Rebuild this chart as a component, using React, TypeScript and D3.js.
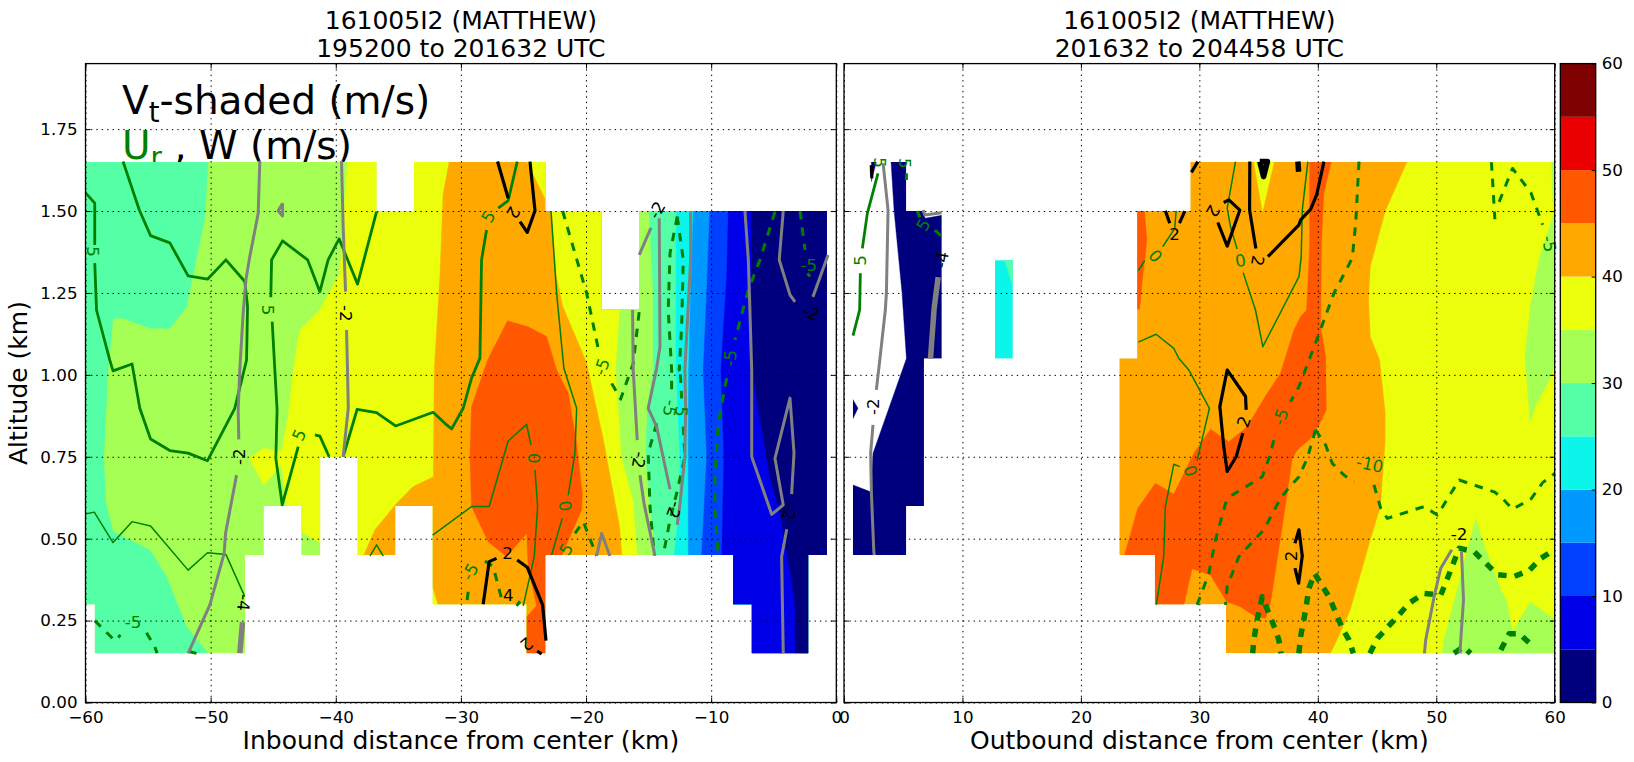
import * as d3 from "d3";
import React, { useEffect, useRef } from "react";

type Pt = [number, number];

// shading levels (m/s) and the colours between them
const bandEdges = [0, 5, 10, 15, 20, 25, 30, 35, 40, 45, 50, 55, 60];
const bandColors = ["#00007f", "#0000e8", "#0040ff", "#0099ff", "#0cf5ea", "#55ffa5", "#a5ff55", "#ebff0c", "#ffa900", "#ff5800", "#ea0000", "#7f0000"];

const altTicks = [0, 0.25, 0.5, 0.75, 1, 1.25, 1.5, 1.75];
const inboundTicks = [-60, -50, -40, -30, -20, -10, 0];
const outboundTicks = [0, 10, 20, 30, 40, 50, 60];
const barTicks = [0, 10, 20, 30, 40, 50, 60];

// cells that have data: x0, x1, alt0, alt1
const leftCells = [
  [-60, -36.75, 1.5, 1.65], [-33.75, -23.25, 1.5, 1.65],
  [-60, -18.75, 1.2, 1.5], [-15.75, -0.75, 1.2, 1.5],
  [-60, -0.75, 0.75, 1.2],
  [-60, -41.25, 0.6, 0.75], [-38.25, -0.75, 0.6, 0.75],
  [-60, -45.75, 0.45, 0.6], [-42.75, -41.25, 0.45, 0.6], [-38.25, -35.25, 0.45, 0.6], [-32.25, -0.75, 0.45, 0.6],
  [-60, -47.25, 0.3, 0.45], [-32.25, -23.25, 0.3, 0.45], [-8.25, -2.25, 0.3, 0.45],
  [-59.25, -47.25, 0.15, 0.3], [-24.75, -23.25, 0.15, 0.3], [-6.75, -2.25, 0.15, 0.3],
];
const rightCells = [
  [2.25, 5.25, 1.5, 1.65], [0.75, 8.25, 1.05, 1.5], [0.75, 6.75, 0.6, 1.05], [0.75, 5.25, 0.45, 0.6],
  [12.75, 14.25, 1.05, 1.35],
  [29.25, 60, 1.5, 1.65], [24.75, 60, 1.05, 1.5], [23.25, 60, 0.45, 1.05], [26.25, 60, 0.3, 0.45], [32.25, 60, 0.15, 0.3],
];

// Vt band edges, left panel, top to bottom
const leftTeal: Pt[] = [[-60, 1.65], [-50.2, 1.65], [-50.46, 1.483], [-51.26, 1.33], [-51.93, 1.208], [-53.26, 1.142], [-54.86, 1.142], [-57, 1.173], [-57.8, 1.173], [-58.2, 1.015], [-58.54, 0.75], [-58.38, 0.608], [-57.8, 0.521], [-56.46, 0.496], [-54.86, 0.466], [-53.53, 0.384], [-51.93, 0.231], [-50.2, 0.15], [-60, 0.15]];
const edgeGreenYellow: Pt[] = [[-39.06, 1.65], [-39.41, 1.473], [-39.67, 1.31], [-41.27, 1.198], [-42.87, 1.137], [-43.4, 1.015], [-43.8, 0.872], [-44.33, 0.766], [-45.8, 0.776], [-46.92, 0.745], [-45.75, 0.664], [-44.33, 0.725], [-43.93, 0.598], [-42.79, 0.521], [-41.2, 0.486], [-40, 0.15]];
const edgeYellowOrange: Pt[] = [[-30.94, 1.65], [-31.42, 1.553], [-31.68, 1.3], [-32.13, 1.015], [-32.2, 0.689], [-33.81, 0.659], [-35.14, 0.608], [-36.87, 0.527], [-37.8, 0.447], [-32.3, 0.359], [-31.8, 0.295], [-31.8, 0.15]];
const edgeOrangeYellow: Pt[] = [[-24.7, 1.65], [-23.2, 1.534], [-22.75, 1.5], [-22.35, 1.3], [-21.82, 1.208], [-19.95, 1.04], [-18.63, 0.811], [-17.29, 0.537], [-17.1, 0.447], [-17.1, 0.15]];
const edgeYellowGreen: Pt[] = [[-18, 1.5], [-17.29, 1.202], [-17.61, 1.015], [-17.16, 0.75], [-16.23, 0.618], [-15.88, 0.447], [-15.88, 0.15]];
const edgeGreenTeal: Pt[] = [[-14.95, 1.5], [-14.63, 1.249], [-14.63, 1.015], [-15.1, 0.893], [-15.21, 0.75], [-14.89, 0.618], [-14.41, 0.447], [-14.41, 0.15]];
const edgeTealCyan: Pt[] = [[-12.81, 1.5], [-12.81, 1.015], [-12.49, 0.75], [-12.55, 0.588], [-12.97, 0.447], [-12.97, 0.15]];
const edgeCyanBlue: Pt[] = [[-11.43, 1.5], [-11.64, 1.249], [-11.8, 1.015], [-11.83, 0.75], [-11.83, 0.15]];
const edgeBlue15: Pt[] = [[-10.1, 1.5], [-10.36, 1.249], [-10.63, 1.015], [-10.36, 0.75], [-10.76, 0.447], [-10.76, 0.15]];
const edgeBlue10: Pt[] = [[-8.63, 1.5], [-8.76, 1.3], [-9.22, 1.015], [-8.98, 0.75], [-9.16, 0.447], [-9.16, 0.15]];
const edgeNavy: Pt[] = [[-6.76, 1.5], [-6.76, 1.015], [-6.36, 0.923], [-5.3, 0.689], [-4.5, 0.578], [-3.57, 0.374], [-3.3, 0.292], [-3.3, 0.15]];
const leftCore45: Pt[] = [[-26.27, 1.165], [-24.62, 1.147], [-23.15, 1.117], [-22.35, 1.015], [-21.42, 0.944], [-20.75, 0.791], [-20.3, 0.638], [-20.35, 0.588], [-21.95, 0.447], [-23.25, 0.447], [-23.25, 0.15], [-24.75, 0.15], [-24.75, 0.262], [-23.95, 0.295], [-24.62, 0.415], [-24.75, 0.516], [-26.35, 0.445], [-27.82, 0.491], [-29.15, 0.598], [-29.28, 0.75], [-29.15, 0.903], [-27.87, 1.045]];

// Vt bands, right panel
const rightOrangeBase: Pt[] = [[23.25, 1.65], [60, 1.65], [60, 0.15], [23.25, 0.15]];
const rightEdgeYellow: Pt[] = [[47.56, 1.65], [45.73, 1.5], [44.46, 1.33], [44.32, 1.229], [44.46, 1.117], [45.25, 1.045], [45.73, 0.883], [45.73, 0.801], [45.31, 0.598], [44.46, 0.496], [42.77, 0.282], [41.65, 0.191], [41.1, 0.15]];
const rightYellowSpike: Pt[] = [[34.6, 1.65], [36.3, 1.65], [35.34, 1.5]];
const rightCore45: Pt[] = [[39.3, 1.65], [41.14, 1.65], [40.5, 1.554], [40.3, 1.39], [40.24, 1.147], [40.66, 1.056], [40.72, 0.893], [40.1, 0.847], [39.39, 0.806], [38.27, 0.771], [37.84, 0.745], [37.42, 0.638], [36.01, 0.303], [35.59, 0.257], [34.74, 0.262], [33.47, 0.292], [32.29, 0.308], [30.94, 0.389], [29.39, 0.408], [28.68, 0.297], [26.25, 0.297], [26.25, 0.447], [23.67, 0.449], [24.8, 0.593], [26.29, 0.669], [27.84, 0.636], [29.53, 0.761], [30.94, 0.834], [32.49, 0.796], [34.04, 0.842], [34.88, 0.893], [35.73, 0.944], [36.85, 1.005], [37.98, 1.137], [38.55, 1.178], [39.05, 1.198], [39.3, 1.39]];
const rightStrip45: Pt[] = [[24.75, 1.5], [25.36, 1.5], [25.58, 1.412], [25.16, 1.28], [24.96, 1.2], [24.75, 1.2]];
const rightGreenTop: Pt[] = [[60, 1.5], [58.69, 1.356], [57.99, 1.219], [57.48, 1.057], [57.93, 0.856], [58.41, 0.908], [59.54, 0.983], [60, 1.032]];
const rightGreenSliver: Pt[] = [[59.75, 1.65], [60, 1.65], [60, 1.5], [59.85, 1.53]];
const rightGreenLow: Pt[] = [[53.34, 0.562], [53.76, 0.509], [55.45, 0.343], [55.96, 0.31], [56.44, 0.216], [57.93, 0.307], [60, 0.254], [60, 0.15], [50.5, 0.15], [50.66, 0.191]];
const rightNavy: Pt[] = [[0.75, 0.45], [5.25, 0.45], [5.25, 0.6], [6.75, 0.6], [6.75, 1.05], [8.25, 1.05], [8.25, 1.487], [6.85, 1.478], [6.6, 1.5], [5.25, 1.5], [5.25, 1.65], [3.97, 1.65], [4.23, 1.5], [4.9, 1.25], [5.27, 1.05], [2.45, 0.761], [2.25, 0.643], [0.76, 0.664]];
const rightNavyDot: Pt[] = [[0.75, 0.925], [1.18, 0.898], [0.75, 0.866]];
const rightNavyTop: Pt[] = [[2.31, 1.65], [2.73, 1.65], [2.31, 1.59]];
const rightCyanBar: Pt[] = [[12.75, 1.05], [14.25, 1.05], [14.25, 1.35], [12.75, 1.35]];
const rightCyanTeal: Pt[] = [[13.58, 1.35], [14.25, 1.35], [14.25, 1.27]];

// Ur contours, left panel
const leftU5: Pt[][] = [
  [[-60.08, 1.559], [-59.26, 1.524], [-59.26, 1.396]],
  [[-59.26, 1.341], [-59.12, 1.198], [-58.06, 1.045], [-57.8, 1.012], [-56.28, 1.033], [-55.66, 0.898], [-54.8, 0.804], [-53.26, 0.769], [-51.8, 0.761], [-50.25, 0.738], [-48.07, 0.898], [-47.13, 1.045], [-47.05, 1.208], [-47.27, 1.285], [-48.78, 1.351], [-50.25, 1.292], [-51.8, 1.302], [-53.26, 1.403], [-54.8, 1.425], [-55.7, 1.503], [-57, 1.651]],
  [[-36.74, 1.498], [-38.26, 1.277], [-39.73, 1.415], [-40.61, 1.351], [-41.27, 1.254], [-42.25, 1.351], [-44.25, 1.409], [-45.13, 1.351], [-45.19, 1.237]],
  [[-45.08, 1.162], [-44.87, 1.015], [-44.69, 0.893], [-44.79, 0.745], [-44.28, 0.603], [-43, 0.781]],
  [[-41.67, 0.817], [-41.27, 0.813], [-40.53, 0.75]],
  [[-39.41, 0.75], [-38.29, 0.895], [-36.74, 0.885], [-35.22, 0.844], [-32.22, 0.886], [-31.28, 0.852], [-30.74, 0.835], [-29.82, 0.898], [-29.15, 0.99], [-28.48, 1.051], [-28.35, 1.351], [-27.95, 1.442]],
  [[-27.02, 1.509], [-26.22, 1.532], [-25.5, 1.651]],
];
const leftU0: Pt[][] = [
  [[-60, 0.575], [-59.3, 0.581], [-57.8, 0.488], [-56.28, 0.552], [-54.8, 0.539], [-51.8, 0.404], [-50.25, 0.457], [-48.78, 0.452], [-47.27, 0.323]],
  [[-37.27, 0.447], [-36.74, 0.481], [-36.2, 0.447]],
  [[-32.26, 0.511], [-31.68, 0.527], [-29.15, 0.598], [-27.74, 0.598], [-26.22, 0.798], [-24.75, 0.849], [-24.4, 0.786]],
  [[-24.08, 0.71], [-23.87, 0.598], [-24.14, 0.445], [-25.02, 0.295]],
  [[-22.8, 1.5], [-22.35, 1.249], [-21.77, 1.02], [-20.75, 0.898], [-20.89, 0.761], [-21.42, 0.633]],
  [[-21.9, 0.562], [-22.75, 0.45]],
];
const leftUm5: Pt[][] = [
  [[-59.26, 0.25], [-57.66, 0.189], [-57.2, 0.206]],
  [[-55.13, 0.213], [-54.46, 0.17], [-54.28, 0.15]],
  [[-51.66, 0.155], [-51.13, 0.15]],
  [[-21.87, 1.5], [-19.95, 1.249], [-18.95, 1.066]],
  [[-17.95, 0.974], [-17.23, 0.926], [-16.23, 1.035], [-15.69, 1.213]],
  [[-12.71, 1.483], [-13.29, 1.371], [-13.43, 1.198], [-13.16, 1.015], [-13.16, 0.954]],
  [[-14.36, 0.852], [-15.03, 0.761], [-14.89, 0.598], [-14.55, 0.45]],
  [[-12.71, 1.483], [-12.23, 1.351], [-12.36, 1.147], [-12.55, 1.015], [-12.49, 1.025], [-12.36, 0.928]],
  [[-12.23, 0.842], [-12.1, 0.75], [-12.76, 0.638], [-13.29, 0.557], [-13.83, 0.45]],
  [[-4.9, 1.498], [-6.1, 1.351], [-7.03, 1.259], [-8.1, 1.107]],
  [[-8.76, 0.99], [-9.43, 0.852], [-9.7, 0.689], [-9.7, 0.588], [-9.43, 0.447]],
  [[-2.9, 1.5], [-2.5, 1.381]],
  [[-2.3, 1.31], [-2.1, 1.3]],
  [[-20.89, 0.516], [-20.22, 0.552], [-19.15, 0.447]],
  [[-28.08, 0.432], [-27.42, 0.415], [-26.62, 0.298]],
  [[-29.42, 0.338], [-29.55, 0.295]],
  [[-25.55, 0.295], [-25.28, 0.309]],
];

// W contours, left panel
const leftW2: Pt[][] = [
  [[-27.07, 1.651], [-26.22, 1.539]],
  [[-25.28, 1.468], [-24.7, 1.435], [-24.08, 1.501], [-24.48, 1.651]],
  [[-28.22, 0.3], [-27.74, 0.43], [-27.15, 0.44]],
  [[-25.5, 0.435], [-24.7, 0.413], [-23.47, 0.298], [-23.2, 0.189]],
  [[-23.9, 0.157], [-23.55, 0.148]],
];
const leftWm2: Pt[][] = [
  [[-46.07, 1.653], [-46.2, 1.493], [-46.87, 1.361], [-47.18, 1.29], [-47.4, 1.188], [-47.67, 1.015], [-47.8, 0.893], [-47.75, 0.803]],
  [[-47.93, 0.694], [-48.81, 0.516], [-48.92, 0.455], [-50.06, 0.298], [-51.8, 0.15]],
  [[-44.25, 1.524], [-44.6, 1.501], [-44.25, 1.485], [-44.25, 1.524]],
  [[-39.54, 1.653], [-39.41, 1.452], [-39.22, 1.254]],
  [[-39.14, 1.137], [-39.06, 1.015], [-39, 0.898], [-39.41, 0.75]],
  [[-16.28, 1.198], [-16.23, 1.015], [-15.91, 0.801]],
  [[-15.69, 0.694], [-15.37, 0.608], [-14.49, 0.447]],
  [[-14.81, 1.449], [-15.75, 1.366]],
  [[-14.15, 1.478], [-14.09, 1.086], [-14.36, 1.02], [-15.03, 0.898], [-14.36, 0.842], [-13.29, 0.651]],
  [[-11.64, 1.5], [-11.64, 1.351], [-12.1, 1.015], [-12.04, 0.898], [-12.1, 0.75], [-12.49, 0.608], [-12.71, 0.542]],
  [[-19.15, 0.447], [-18.75, 0.516], [-18.09, 0.447]],
  [[-7.3, 1.5], [-7.03, 1.351], [-6.76, 1.015], [-6.76, 0.75], [-5.16, 0.574], [-4.24, 0.603], [-4.9, 0.745], [-3.7, 0.929], [-3.38, 0.761], [-3.57, 0.636]],
  [[-3.96, 0.529], [-4.37, 0.445], [-4.24, 0.15]],
  [[-4.24, 1.5], [-4.56, 1.351], [-3.7, 1.244], [-3.3, 1.223]],
  [[-0.66, 1.366], [-1.87, 1.238]],
];
const leftWm4: Pt[][] = [[[-47.45, 0.245], [-47.67, 0.15]]];

// Ur contours, right panel
const rightU5: Pt[][] = [
  [[2.87, 1.615], [1.97, 1.493], [1.55, 1.386]],
  [[1.38, 1.31], [1.32, 1.198], [0.76, 1.12]],
];
const rightU0: Pt[][] = [
  [[33.05, 1.651], [32.35, 1.508], [32.63, 1.452], [33.19, 1.384]],
  [[33.7, 1.312], [34.74, 1.198], [35.36, 1.086], [38.41, 1.3], [38.6, 1.361], [38.69, 1.503], [39.16, 1.651]],
  [[28.04, 1.501], [27.92, 1.447], [26.91, 1.391]],
  [[25.39, 1.349], [24.85, 1.318]],
  [[24.85, 1.1], [26.35, 1.124], [27.84, 1.081], [28.26, 1.051], [29.11, 1.015], [30.85, 0.898], [29.81, 0.738]],
  [[28.35, 0.72], [27.84, 0.727], [27.13, 0.598], [26.99, 0.445], [26.37, 0.298]],
];
const rightUm5: Pt[][] = [
  [[5.27, 1.615], [5.27, 1.595]],
  [[7.67, 1.442], [8.28, 1.422]],
  [[6.2, 1.5], [6.4, 1.48]],
  [[43.48, 1.651], [43.2, 1.463], [42.91, 1.356], [41.36, 1.249], [39.96, 1.112], [38.41, 0.964], [37.7, 0.918]],
  [[36.29, 0.801], [35.87, 0.745], [35.31, 0.689], [32.77, 0.633], [32.21, 0.608], [31.36, 0.496], [30.8, 0.394], [29.81, 0.298]],
  [[39.81, 0.832], [39.11, 0.745], [38.41, 0.689], [37.42, 0.649], [36.85, 0.623], [35.44, 0.527], [33.33, 0.445], [32.35, 0.354], [32.21, 0.298]],
  [[54.66, 1.649], [54.95, 1.475]],
  [[55.31, 1.528], [56.44, 1.63], [57.99, 1.556], [58.98, 1.458]],
];
const rightUm10: Pt[][] = [
  [[39.81, 0.832], [40.66, 0.786], [41.22, 0.73], [42.21, 0.694], [43.05, 0.674]],
  [[44.74, 0.664], [45.31, 0.593], [45.87, 0.562], [48.97, 0.598], [50.1, 0.572], [51.93, 0.679], [54.89, 0.643], [55.45, 0.628], [56.44, 0.59], [57.99, 0.621], [58.98, 0.671], [60.1, 0.702]],
];
const rightUm15: Pt[][] = [
  [[34.5, 0.15], [34.6, 0.191], [34.88, 0.252], [35.31, 0.323], [36.43, 0.221], [36.71, 0.191], [36.9, 0.15]],
  [[38.4, 0.15], [38.55, 0.201], [38.97, 0.282], [39.25, 0.349], [39.73, 0.394], [40.94, 0.323], [42.07, 0.226], [42.63, 0.191], [43, 0.15]],
  [[44.4, 0.15], [45.03, 0.196], [46.72, 0.262], [47.7, 0.303], [48.97, 0.333], [50.38, 0.328], [50.95, 0.379], [51.93, 0.471], [53.2, 0.46], [54.33, 0.42], [55.17, 0.39], [56.58, 0.385], [57.85, 0.403], [58.83, 0.44], [60.1, 0.469]],
  [[55.45, 0.16], [56.16, 0.21], [57, 0.21], [58.13, 0.173]],
  [[51.5, 0.15], [52.3, 0.17], [52.9, 0.15]],
];

// W contours, right panel
const rightW2: Pt[][] = [
  [[27.13, 1.501], [27.5, 1.463]],
  [[28.77, 1.5], [28.32, 1.463]],
  [[29.33, 1.618], [29.87, 1.651]],
  [[32.06, 1.526], [32.49, 1.534], [33.42, 1.503], [32.35, 1.393], [31.56, 1.465]],
  [[34.26, 1.651], [34.24, 1.503], [34.77, 1.386]],
  [[35.79, 1.361], [38.41, 1.458], [38.55, 1.473], [39.39, 1.505], [39.9, 1.549], [40.52, 1.651]],
  [[33.95, 0.893], [33.9, 0.934], [32.35, 1.015], [31.73, 0.903], [32.06, 0.781], [32.35, 0.705], [33.11, 0.75], [33.67, 0.822]],
  [[38.07, 0.486], [38.41, 0.527], [38.69, 0.447], [38.38, 0.364], [38.07, 0.41]],
  [[2.3, 1.64], [2.35, 1.6]],
];
const rightW4: Pt[][] = [
  [[35.1, 1.651], [35.75, 1.651], [35.42, 1.605], [35.1, 1.651]],
  [[38.32, 1.651], [38.38, 1.62]],
];
const rightWm2: Pt[][] = [
  [[3.3, 1.646], [3.72, 1.503], [3.58, 1.25], [3.49, 1.198], [3.02, 1.045], [2.73, 0.954]],
  [[2.45, 0.847], [2.25, 0.761], [2.31, 0.643], [2.51, 0.466], [2.55, 0.45]],
  [[6.68, 1.503], [6.82, 1.488], [8.23, 1.495]],
  [[51.31, 0.466], [50.38, 0.41], [49.82, 0.323], [49.11, 0.191], [49, 0.15]],
  [[52.13, 0.46], [52.3, 0.313], [52.07, 0.191], [52, 0.15]],
];
const rightWm4: Pt[][] = [[[7.95, 1.298], [7.61, 1.203], [7.3, 1.049]]];

// contour labels: x, alt, text, rotation
const leftUlabels: [number, number, string, number][] = [
  [-59.4, 1.376, "5", 90], [-45.4, 1.198, "5", 90], [-42.93, 0.817, "5", -65], [-27.82, 1.483, "5", -60],
  [-24.16, 0.745, "0", 90], [-21.68, 0.6, "0", 80], [-56.2, 0.247, "-5", 0], [-18.75, 1.025, "-5", -70],
  [-13.29, 0.898, "-5", 100], [-12.36, 0.888, "5", 95], [-8.5, 1.051, "-5", -85], [-2.2, 1.336, "-5", 0],
  [-21.61, 0.468, "5", -60], [-29.28, 0.399, "-5", -60],
];
const leftWlabels: [number, number, string, number][] = [
  [-47.72, 0.75, "-2", -90], [-39.22, 1.188, "-2", 90], [-15.77, 0.74, "-2", 100], [-14.36, 1.503, "-2", -60],
  [-12.95, 0.588, "-2", 110], [-3.76, 0.582, "-2", 100], [-2.05, 1.19, "-2", 20], [-47.35, 0.305, "-4", 95],
  [-25.82, 1.495, "2", 120], [-26.27, 0.457, "2", 0], [-24.75, 0.178, "2", 140], [-26.22, 0.328, "4", 0],
];
const rightUlabels: [number, number, string, number][] = [
  [1.32, 1.349, "5", -90], [3.02, 1.648, "5", 90], [5.13, 1.646, "5", 90], [6.68, 1.458, "5", -60],
  [33.47, 1.349, "0", -10], [26.29, 1.363, "0", 50], [29.25, 0.707, "0", 70], [36.85, 0.872, "-5", -70],
  [44.4, 0.727, "-10", 12], [59.54, 1.4, "-5", 80],
];
const rightWlabels: [number, number, string, number][] = [
  [2.45, 0.903, "-2", -90], [8.23, 1.351, "-4", -80], [27.9, 1.43, "2", 0], [31.16, 1.5, "2", 120],
  [34.94, 1.348, "2", 100], [33.75, 0.857, "2", -70], [37.7, 0.447, "2", -90], [51.93, 0.513, "-2", 0],
];

const green = "#008000";
const font = "'DejaVu Sans', sans-serif";

const App = () => {
  const svgRef = useRef<SVGSVGElement>(null);

  useEffect(() => {
    const svg = d3.select(svgRef.current);
    svg.selectAll("*").remove();

    const top = 63.6;
    const bottom = 702.5;
    const y = d3.scaleLinear().domain([0, 1.95]).range([bottom, top]);
    const xL = d3.scaleLinear().domain([-60, 0]).range([85.5, 836.3]);
    const xR = d3.scaleLinear().domain([0, 60]).range([844, 1554.7]);
    const color = d3.scaleThreshold<number, string>().domain(bandEdges.slice(1, -1)).range(bandColors);

    // big annotation sits under the shading, the fill cuts its lower edge
    const note = svg.append("g").attr("font-family", font).attr("font-size", 39);
    const l1 = note.append("text").attr("x", 122).attr("y", 114);
    l1.append("tspan").text("V");
    l1.append("tspan").attr("dy", 8).attr("font-size", 27.5).text("t");
    l1.append("tspan").attr("dy", -8).text("-shaded (m/s)");
    const l2 = note.append("text").attr("x", 122).attr("y", 159);
    l2.append("tspan").attr("fill", green).text("U");
    l2.append("tspan").attr("fill", green).attr("dy", 8).attr("font-size", 27.5).text("r");
    l2.append("tspan").attr("dy", -8).text(" , W (m/s)");

    const addClip = (id: string, cells: number[][], x: d3.ScaleLinear<number, number>) => {
      svg
        .append("clipPath")
        .attr("id", id)
        .selectAll("rect")
        .data(cells)
        .join("rect")
        .attr("x", (d) => x(d[0]))
        .attr("width", (d) => x(d[1]) - x(d[0]))
        .attr("y", (d) => y(d[3]))
        .attr("height", (d) => y(d[2]) - y(d[3]));
    };
    addClip("cellsL", leftCells, xL);
    addClip("cellsR", rightCells, xR);
    svg.append("clipPath").attr("id", "axL").append("rect").attr("x", xL(-60)).attr("y", top).attr("width", xL(0) - xL(-60)).attr("height", bottom - top);
    svg.append("clipPath").attr("id", "axR").append("rect").attr("x", xR(0)).attr("y", top).attr("width", xR(60) - xR(0)).attr("height", bottom - top);

    const drawBands = (clip: string, x: d3.ScaleLinear<number, number>, layers: [Pt[], number][]) => {
      const line = d3.line<Pt>().x((d) => x(d[0])).y((d) => y(d[1]));
      svg
        .append("g")
        .attr("clip-path", `url(#${clip})`)
        .selectAll("path")
        .data(layers)
        .join("path")
        .attr("d", (d) => line(d[0]) + "Z")
        .attr("fill", (d) => color(d[1]) as string)
        .attr("stroke", (d) => color(d[1]) as string)
        .attr("stroke-width", 0.4);
    };

    // everything right of an edge takes the next band, painted left to right
    const toEnd = (edge: Pt[], xEnd: number): Pt[] => [...edge, [xEnd, edge[edge.length - 1][1]], [xEnd, edge[0][1]]];

    drawBands("cellsL", xL, [
      [[[-60, 1.65], [0, 1.65], [0, 0.15], [-60, 0.15]], 30],
      [leftTeal, 25],
      [toEnd(edgeGreenYellow, 0), 35],
      [toEnd(edgeYellowOrange, 0), 40],
      [toEnd(edgeOrangeYellow, 0), 35],
      [toEnd(edgeYellowGreen, 0), 30],
      [toEnd(edgeGreenTeal, 0), 25],
      [toEnd(edgeTealCyan, 0), 20],
      [toEnd(edgeCyanBlue, 0), 15],
      [toEnd(edgeBlue15, 0), 10],
      [toEnd(edgeBlue10, 0), 5],
      [toEnd(edgeNavy, 0), 0],
      [leftCore45, 45],
    ]);
    drawBands("cellsR", xR, [
      [rightOrangeBase, 40],
      [toEnd(rightEdgeYellow, 60), 35],
      [rightYellowSpike, 35],
      [rightCore45, 45],
      [rightStrip45, 45],
      [rightGreenTop, 30],
      [rightGreenSliver, 30],
      [rightGreenLow, 30],
      [rightNavy, 0],
      [rightNavyDot, 0],
      [rightNavyTop, 0],
      [rightCyanBar, 20],
      [rightCyanTeal, 25],
    ]);

    // dotted grid and inward ticks
    const styleAxis = (g: any) => {
      g.select(".domain").remove();
      g.selectAll("line").attr("stroke", "#000").attr("stroke-width", 1);
      g.selectAll("text").attr("font-family", font).attr("font-size", 16.7).attr("fill", "#000");
    };
    const grid = (g: any) => {
      g.select(".domain").remove();
      g.selectAll("line").attr("stroke", "#000").attr("stroke-width", 1).attr("stroke-dasharray", "1.4,4");
      g.selectAll("text").remove();
    };
    const panelAxes = (x: d3.ScaleLinear<number, number>, ticks: number[], showY: boolean) => {
      const w = x.range()[1] - x.range()[0];
      const x0 = x.range()[0];
      svg.append("g").attr("transform", `translate(0,${bottom})`).call(d3.axisBottom(x).tickValues(ticks).tickSize(-(bottom - top))).call(grid);
      svg.append("g").attr("transform", `translate(${x0},0)`).call(d3.axisLeft(y).tickValues(altTicks).tickSize(-w)).call(grid);
      svg.append("g").attr("transform", `translate(0,${bottom})`).call(d3.axisBottom(x).tickValues(ticks).tickSize(-5).tickPadding(9)).call(styleAxis);
      svg.append("g").attr("transform", `translate(0,${top})`).call(d3.axisTop(x).tickValues(ticks).tickSize(-5).tickFormat(() => "")).call(styleAxis);
      svg.append("g").attr("transform", `translate(${x0},0)`).call(d3.axisLeft(y).tickValues(altTicks).tickSize(-5).tickPadding(8).tickFormat((d) => (showY ? d3.format(".2f")(d as number) : ""))).call(styleAxis);
      svg.append("g").attr("transform", `translate(${x0 + w},0)`).call(d3.axisRight(y).tickValues(altTicks).tickSize(-5).tickFormat(() => "")).call(styleAxis);
    };
    panelAxes(xL, inboundTicks, true);
    panelAxes(xR, outboundTicks, false);

    const drawLines = (clip: string, x: d3.ScaleLinear<number, number>, lines: Pt[][], stroke: string, width: number, dashed: boolean) => {
      const line = d3.line<Pt>().x((d) => x(d[0])).y((d) => y(d[1]));
      svg
        .append("g")
        .attr("clip-path", `url(#${clip})`)
        .selectAll("path")
        .data(lines)
        .join("path")
        .attr("d", (d) => line(d))
        .attr("fill", "none")
        .attr("stroke", stroke)
        .attr("stroke-width", width)
        .attr("stroke-linejoin", "round")
        .attr("stroke-dasharray", dashed ? "8.5,8" : null);
    };
    drawLines("axL", xL, leftU0, green, 1.5, false);
    drawLines("axL", xL, leftU5, green, 2.8, false);
    drawLines("axL", xL, leftUm5, green, 3, true);
    drawLines("axL", xL, leftWm2, "#808080", 3, false);
    drawLines("axL", xL, leftWm4, "#808080", 5.5, false);
    drawLines("axL", xL, leftW2, "#000", 3.2, false);
    drawLines("axR", xR, rightU0, green, 1.5, false);
    drawLines("axR", xR, rightU5, green, 2.8, false);
    drawLines("axR", xR, rightUm5, green, 3, true);
    drawLines("axR", xR, rightUm10, green, 3, true);
    drawLines("axR", xR, rightUm15, green, 5.5, true);
    drawLines("axR", xR, rightWm2, "#808080", 3, false);
    drawLines("axR", xR, rightWm4, "#808080", 5.5, false);
    drawLines("axR", xR, rightW2, "#000", 3.2, false);
    drawLines("axR", xR, rightW4, "#000", 5.5, false);

    const drawLabels = (x: d3.ScaleLinear<number, number>, labels: [number, number, string, number][], fill: string) => {
      svg
        .append("g")
        .selectAll("text")
        .data(labels)
        .join("text")
        .attr("transform", (d) => `translate(${x(d[0])},${y(d[1])}) rotate(${d[3]})`)
        .attr("text-anchor", "middle")
        .attr("dy", "0.36em")
        .attr("font-family", font)
        .attr("font-size", 16.7)
        .attr("fill", fill)
        .text((d) => d[2]);
    };
    drawLabels(xL, leftUlabels, green);
    drawLabels(xL, leftWlabels, "#000");
    drawLabels(xR, rightUlabels, green);
    drawLabels(xR, rightWlabels, "#000");

    // panel frames
    [xL, xR].forEach((x) => {
      svg.append("rect").attr("x", x.range()[0]).attr("y", top).attr("width", x.range()[1] - x.range()[0]).attr("height", bottom - top).attr("fill", "none").attr("stroke", "#000").attr("stroke-width", 1.3);
    });

    // colour bar
    const barX0 = 1560.3;
    const barX1 = 1595.7;
    const cb = d3.scaleLinear().domain([0, 60]).range([bottom, top]);
    svg
      .append("g")
      .selectAll("rect")
      .data(bandColors)
      .join("rect")
      .attr("x", barX0)
      .attr("width", barX1 - barX0)
      .attr("y", (_, i) => cb(bandEdges[i + 1]))
      .attr("height", (_, i) => cb(bandEdges[i]) - cb(bandEdges[i + 1]))
      .attr("fill", (d) => d);
    svg.append("g").attr("transform", `translate(${barX1},0)`).call(d3.axisRight(cb).tickValues(barTicks).tickSize(-4).tickPadding(6).tickFormat(d3.format("d") as any)).call(styleAxis);
    svg.append("rect").attr("x", barX0).attr("y", top).attr("width", barX1 - barX0).attr("height", bottom - top).attr("fill", "none").attr("stroke", "#000").attr("stroke-width", 1.3);

    // titles and axis labels
    const text = (tx: number, ty: number, s: string, size: number, rot = 0) =>
      svg
        .append("text")
        .attr("transform", `translate(${tx},${ty}) rotate(${rot})`)
        .attr("text-anchor", "middle")
        .attr("font-family", font)
        .attr("font-size", size)
        .text(s);
    const midL = (xL.range()[0] + xL.range()[1]) / 2;
    const midR = (xR.range()[0] + xR.range()[1]) / 2;
    text(midL, 29, "161005I2 (MATTHEW)", 25);
    text(midL, 57, "195200 to 201632 UTC", 25);
    text(midR, 29, "161005I2 (MATTHEW)", 25);
    text(midR, 57, "201632 to 204458 UTC", 25);
    text(midL, 749, "Inbound distance from center (km)", 25);
    text(midR, 749, "Outbound distance from center (km)", 25);
    text(27, (top + bottom) / 2, "Altitude (km)", 25, -90);
  }, []);

  return <svg ref={svgRef} width={1634} height={762} style={{ position: "absolute", left: 0, top: 0, background: "#fff" }} />;
};

export default App;
